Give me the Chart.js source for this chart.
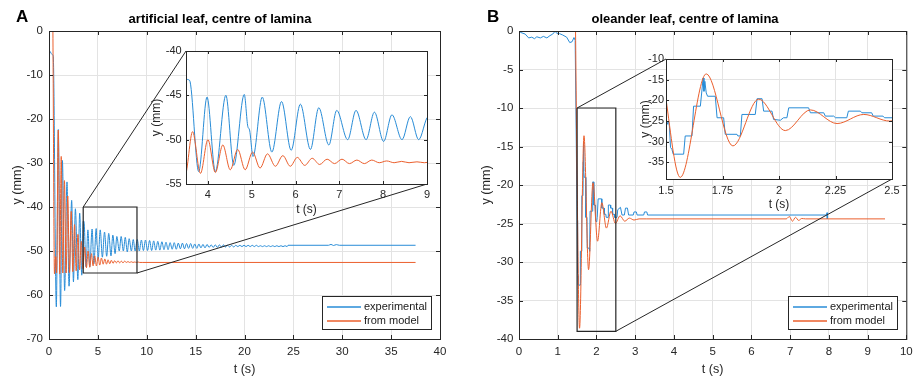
<!DOCTYPE html>
<html>
<head>
<meta charset="utf-8">
<script src="https://cdn.jsdelivr.net/npm/chart.js@4.4.1/dist/chart.umd.min.js"></script>
<style>
  body { margin: 0; width: 919px; height: 378px; position: relative; overflow: hidden; background: #fff;
         font-family: "Liberation Sans", Arial, Helvetica, sans-serif; }
  canvas { position: absolute; }
  .tag { position: absolute; font-weight: bold; font-size: 17px; line-height: 17px; color: #000; z-index: 5; }
</style>
</head>
<body>
<div class="tag" style="left:16px; top:8px">A</div>
<div class="tag" style="left:487px; top:8px">B</div>
<canvas id="mainA" width="460" height="378" style="left:0; top:0"></canvas>
<canvas id="insetA" width="300" height="180" style="left:140px; top:40px"></canvas>
<canvas id="mainB" width="459" height="378" style="left:460px; top:0"></canvas>
<canvas id="insetB" width="290" height="170" style="left:620px; top:48px"></canvas>
<script>
// ---- panel A: artificial leaf (t in s, y in mm) ----
const expA_t = [
  0, 0.1, 0.2, 0.35, 0.43, 0.75, 0.95, 1.18, 1.37, 1.60,
  1.84, 2.05, 2.32, 2.50, 2.70, 2.95, 3.14, 3.35, 3.50, 3.58,
  3.79, 3.98, 4.17, 4.41, 4.59, 4.83, 4.91, 4.95, 5.03, 5.24,
  5.46, 5.68, 5.90, 6.11, 6.34, 6.53, 6.76, 6.94, 7.19, 7.38,
  7.61, 7.80, 8.01, 8.20, 8.43, 8.62, 8.81, 9.03, 9.24, 9.45,
  9.66, 9.87, 10.08, 10.29, 10.50, 10.71, 10.92, 11.13, 11.34, 11.55,
  11.76, 11.97, 12.18, 12.39, 12.60, 12.81, 13.02, 13.23, 13.44, 13.65,
  13.86, 14.07, 14.28, 14.49, 14.70, 14.91, 15.12, 15.33, 15.54, 15.75,
  15.96, 16.17, 16.38, 16.59, 16.80, 17.01, 17.22, 17.43, 17.64, 17.85,
  18.06, 18.27, 18.48, 18.69, 18.90, 19.11, 19.32, 19.53, 19.74, 19.95,
  20.16, 20.37, 20.58, 20.79, 21.00, 21.21, 21.42, 21.63, 21.84, 22.05,
  22.26, 22.47, 22.68, 22.89, 23.10, 23.31, 23.52, 23.73, 23.94, 24.15,
  24.36, 24.45, 28.60, 28.85, 29.10, 29.40, 29.70, 37.50
];
const expA_y = [
  -4.5, -4.6, -5.0, -5.4, -5.6, -62.7, -22.4, -62.6, -29.4, -59.0,
  -34.3, -58.0, -38.5, -57.0, -40.4, -56.5, -41.4, -55.5, -43.2, -43.3,
  -53.6, -45.2, -53.6, -45.0, -52.9, -44.9, -48.5, -48.9, -51.9, -45.2,
  -51.4, -45.7, -51.2, -46.0, -51.1, -46.4, -50.6, -46.7, -50.0, -46.7,
  -50.0, -46.9, -50.2, -47.2, -50.0, -47.4, -50.0, -47.4, -50.0, -47.5,
  -49.9, -47.5, -49.9, -47.6, -49.9, -47.7, -49.8, -47.8, -49.8, -47.9,
  -49.7, -48.0, -49.7, -48.1, -49.6, -48.1, -49.6, -48.2, -49.5, -48.2,
  -49.5, -48.3, -49.4, -48.3, -49.4, -48.4, -49.4, -48.4, -49.3, -48.5,
  -49.3, -48.5, -49.2, -48.6, -49.2, -48.6, -49.2, -48.6, -49.1, -48.6,
  -49.1, -48.7, -49.1, -48.7, -49.1, -48.7, -49.0, -48.7, -49.0, -48.7,
  -49.0, -48.7, -49.0, -48.7, -49.0, -48.7, -49.0, -48.8, -49.0, -48.8,
  -49.0, -48.8, -49.0, -48.8, -49.0, -48.8, -49.0, -48.8, -49.0, -48.8,
  -49.0, -48.7, -48.7, -48.5, -48.75, -48.55, -48.7, -48.7
];
const modA_t = [
  0.40, 0.56, 0.68, 0.78, 0.95, 1.10, 1.25, 1.41, 1.58, 1.75,
  1.92, 2.09, 2.27, 2.44, 2.61, 2.78, 2.96, 3.13, 3.30, 3.48,
  3.65, 3.83, 4.00, 4.17, 4.34, 4.51, 4.68, 4.85, 5.02, 5.19,
  5.36, 5.54, 5.71, 5.88, 6.04, 6.21, 6.38, 6.55, 6.72, 6.89,
  7.06, 7.23, 7.40, 7.57, 7.74, 7.91, 8.08, 8.25, 8.42, 8.59,
  8.77, 8.94, 9.11, 9.28, 9.60, 37.50
];
const modA_y = [
  0, -55.2, -51.3, -55.0, -22.5, -55.2, -28.5, -55.0, -34.0, -55.0,
  -37.5, -54.9, -41.0, -54.7, -44.0, -54.5, -46.2, -54.3, -47.8, -54.0,
  -49.1, -53.8, -50.0, -53.7, -50.6, -53.4, -51.1, -53.4, -51.4, -53.2,
  -51.6, -53.0, -51.8, -53.0, -52.0, -52.9, -52.1, -52.8, -52.2, -52.7,
  -52.2, -52.7, -52.3, -52.7, -52.3, -52.6, -52.4, -52.6, -52.45, -52.6,
  -52.5, -52.6, -52.5, -52.6, -52.6, -52.6
];

// ---- panel B: oleander leaf ----
const expB_t = [
  0, 0.05, 0.16, 0.25, 0.33, 0.40, 0.46, 0.55, 0.63, 0.72,
  0.80, 0.87, 0.93, 0.98, 1.05, 1.12, 1.23, 1.31, 1.37, 1.42,
  1.45, 1.475, 1.500, 1.505, 1.510, 1.515, 1.520, 1.526, 1.532, 1.578,
  1.585, 1.615, 1.622, 1.652, 1.660, 1.664, 1.668, 1.672, 1.678, 1.684,
  1.718, 1.726, 1.755, 1.762, 1.814, 1.818, 1.829, 1.836, 1.895, 1.903,
  1.925, 1.932, 1.969, 1.976, 2.006, 2.020, 2.035, 2.043, 2.131, 2.139,
  2.198, 2.205, 2.242, 2.250, 2.300, 2.307, 2.360, 2.367, 2.410, 2.417,
  2.460, 2.467, 2.530, 2.550, 2.620, 2.660, 2.720, 2.750, 2.800, 2.830,
  2.950, 2.970, 3.030, 3.050, 3.220, 3.240, 3.300, 3.320, 7.950, 7.955,
  7.960
];
const expB_y = [
  0, -0.2, -0.4, -0.9, -0.8, -1.0, -0.75, -0.9, -0.7, -0.9,
  -0.6, -0.4, -0.05, -0.3, -0.35, -0.5, -0.8, -1.5, -1.4, -0.85,
  -1.2, -12.6, -24.6, -25.8, -25.0, -26.2, -31.4, -31.8, -33.0, -33.0,
  -28.6, -28.6, -21.4, -21.4, -17.0, -14.6, -17.8, -15.4, -18.2, -19.0,
  -19.0, -24.2, -24.2, -28.2, -28.2, -28.6, -28.6, -23.4, -23.4, -19.6,
  -19.6, -22.6, -22.6, -24.6, -24.8, -24.2, -24.2, -21.8, -21.8, -23.0,
  -23.0, -23.8, -23.8, -24.2, -24.2, -22.6, -22.6, -23.0, -23.0, -23.8,
  -23.8, -24.2, -24.2, -23.2, -22.9, -23.9, -23.9, -23.0, -23.0, -23.9,
  -23.9, -23.5, -23.5, -23.9, -23.9, -23.5, -23.5, -23.9, -23.9, -23.6,
  -24.4
];
const modB_t = [
  1.46, 1.50, 1.563, 1.678, 1.796, 1.910, 2.028, 2.139, 2.257, 2.375,
  2.49, 2.61, 2.73, 2.85, 2.97, 3.10, 3.30, 6.90, 6.98, 7.06,
  7.14, 7.22, 7.30, 7.40, 9.45
];
const modB_y = [
  0, -19.6, -38.6, -13.6, -31.0, -19.7, -27.3, -22.3, -25.6, -23.4,
  -25.0, -24.0, -24.7, -24.3, -24.55, -24.4, -24.4, -24.4, -24.1, -24.7,
  -24.2, -24.6, -24.35, -24.4, -24.4
];

// axis limits and tick labels
const mainA_t = [0, 40], mainA_y = [-70, 0];
const zoomA_t = [3.5, 9], zoomA_y = [-55, -40];
const mainB_t = [0, 10], mainB_y = [-40, 0];
const zoomB_t = [1.5, 2.5], zoomB_y = [-39, -10];
const ticksA_x = [0, 5, 10, 15, 20, 25, 30, 35, 40];
const ticksA_y = [-70, -60, -50, -40, -30, -20, -10, 0];
const ticksAin_x = [4, 5, 6, 7, 8, 9];
const ticksAin_y = [-55, -50, -45, -40];
const ticksB_x = [0, 1, 2, 3, 4, 5, 6, 7, 8, 9, 10];
const ticksB_y = [-40, -35, -30, -25, -20, -15, -10, -5, 0];
const ticksBin_x = [1.5, 1.75, 2, 2.25, 2.5];
const ticksBin_y = [-35, -30, -25, -20, -15, -10];

const font = '"Liberation Sans", Arial, Helvetica, sans-serif';
const ink = '#262626';
const blue = 'rgb(40,140,215)';
const orange = 'rgb(235,95,45)';

const series = (label, t, y, color, smooth, order) => ({
  label, order, data: t.map((v, i) => ({ x: v, y: y[i] })),
  borderColor: color, borderWidth: 1, pointRadius: 0, fill: false, clip: 0,
  tension: 0, cubicInterpolationMode: smooth ? 'monotone' : 'default'
});

const zoomBox = (tr, yr) => ({
  label: '', order: 0, borderColor: ink, borderWidth: 1.2, pointRadius: 0, tension: 0, clip: false,
  data: [{ x: tr[0], y: yr[1] }, { x: tr[1], y: yr[1] }, { x: tr[1], y: yr[0] },
         { x: tr[0], y: yr[0] }, { x: tr[0], y: yr[1] }]
});

function axis(vals, lim, size, title, o) {
  return {
    type: 'linear', min: lim[0], max: lim[1],
    afterBuildTicks: s => { s.ticks = vals.map(v => ({ value: v })); },
    afterFit: s => { if (s.isHorizontal()) s.height = size; else s.width = size; },
    grid: { color: '#e3e3e3', drawTicks: false },
    border: { display: false },
    ticks: { color: ink, font: { family: font, size: o.tick }, padding: o.pad,
             maxRotation: 0, autoSkip: false, callback: v => String(v) },
    title: { display: true, text: title, color: ink, font: { family: font, size: o.label }, padding: o.titlePad }
  };
}

// MATLAB-like box, inward ticks, zoom connectors and legend
const frame = {
  id: 'frame',
  beforeDraw(chart, args, o) {
    if (!o.fill) return;
    const a = chart.chartArea;
    chart.ctx.fillStyle = '#fff';
    chart.ctx.fillRect(a.left, a.top, a.right - a.left, a.bottom - a.top);
  },
  afterDatasetsDraw(chart, args, o) {
    const ctx = chart.ctx, a = chart.chartArea;
    const xs = chart.scales.x, ys = chart.scales.y, L = o.tick;
    ctx.save();
    ctx.strokeStyle = ink;
    ctx.lineWidth = 1;
    ctx.beginPath();
    xs.ticks.forEach(t => {
      const p = Math.round(xs.getPixelForValue(t.value)) + 0.5;
      ctx.moveTo(p, a.bottom); ctx.lineTo(p, a.bottom - L);
      ctx.moveTo(p, a.top); ctx.lineTo(p, a.top + L);
    });
    ys.ticks.forEach(t => {
      const p = Math.round(ys.getPixelForValue(t.value)) + 0.5;
      ctx.moveTo(a.left, p); ctx.lineTo(a.left + L, p);
      ctx.moveTo(a.right, p); ctx.lineTo(a.right - L, p);
    });
    ctx.stroke();
    ctx.strokeRect(a.left + 0.5, a.top + 0.5, a.right - a.left, a.bottom - a.top);

    if (o.inset) {
      const ic = Chart.getChart(o.inset);
      const ia = ic.chartArea;
      const dx = ic.canvas.offsetLeft - chart.canvas.offsetLeft;
      const dy = ic.canvas.offsetTop - chart.canvas.offsetTop;
      ctx.beginPath();
      ctx.moveTo(xs.getPixelForValue(o.range[0][0]), ys.getPixelForValue(o.range[1][1]));
      ctx.lineTo(ia.left + dx, ia.top + dy);
      ctx.moveTo(xs.getPixelForValue(o.range[0][1]), ys.getPixelForValue(o.range[1][0]));
      ctx.lineTo(ia.right + dx, ia.bottom + dy);
      ctx.stroke();
    }

    if (o.legend) {
      const items = chart.data.datasets.filter(d => d.label);
      ctx.font = '11px ' + font;
      const tw = Math.max(...items.map(d => ctx.measureText(d.label).width));
      const w = Math.round(42 + tw + 4), h = 33;
      const x = Math.round(a.right - 9 - w), y = Math.round(a.bottom - 10 - h);
      ctx.fillStyle = '#fff';
      ctx.fillRect(x, y, w, h);
      ctx.strokeStyle = ink;
      ctx.lineWidth = 1;
      ctx.strokeRect(x + 0.5, y + 0.5, w, h);
      ctx.textBaseline = 'middle';
      items.forEach((d, i) => {
        const cy = y + 11 + i * 14;
        ctx.strokeStyle = d.borderColor;
        ctx.lineWidth = 1.3;
        ctx.beginPath(); ctx.moveTo(x + 5, cy); ctx.lineTo(x + 39, cy); ctx.stroke();
        ctx.fillStyle = '#1a1a1a';
        ctx.fillText(d.label, x + 42, cy);
      });
    }
    ctx.restore();
  }
};

const base = (padding, frameOpts, title) => ({
  responsive: false, animation: false, events: [], devicePixelRatio: 1,
  layout: { padding },
  plugins: {
    legend: { display: false }, tooltip: { enabled: false },
    title: title ? { display: true, text: title, color: '#000',
                     font: { family: font, size: 13, weight: 'bold' }, padding: { top: 12, bottom: 3.4 } }
                 : { display: false },
    frame: frameOpts
  }
});

const mainFont = { tick: 11.5, label: 12.6 };
const insetFont = { tick: 11, label: 12 };

// insets first so the main charts can find them for the connector lines
new Chart(document.getElementById('insetA'), {
  type: 'line',
  data: { datasets: [series('experimental', expA_t, expA_y, blue, true, 2),
                     series('from model', modA_t, modA_y, orange, true, 1)] },
  options: Object.assign(base({ top: 11, right: 13, left: 0, bottom: 0 }, { fill: true, tick: 3 }), {
    scales: {
      x: axis(ticksAin_x, zoomA_t, 36, 't (s)', { ...insetFont, pad: 4.4, titlePad: { top: 0, bottom: 2.8 } }),
      y: axis(ticksAin_y, zoomA_y, 46, 'y (mm)', { ...insetFont, pad: 4.3, titlePad: { top: 9.5, bottom: 0 } })
    }
  }),
  plugins: [frame]
});

new Chart(document.getElementById('insetB'), {
  type: 'line',
  data: { datasets: [series('experimental', expB_t, expB_y, blue, false, 2),
                     series('from model', modB_t, modB_y, orange, true, 1)] },
  options: Object.assign(base({ top: 11, right: 18, left: 0, bottom: 0 }, { fill: true, tick: 3 }), {
    scales: {
      x: axis(ticksBin_x, zoomB_t, 39, 't (s)', { ...insetFont, pad: 4.9, titlePad: { top: 0, bottom: 5.8 } }),
      y: axis(ticksBin_y, zoomB_y, 46, 'y (mm)', { ...insetFont, pad: 2, titlePad: { top: 18.8, bottom: 0 } })
    }
  }),
  plugins: [frame]
});

new Chart(document.getElementById('mainA'), {
  type: 'line',
  data: { datasets: [series('experimental', expA_t, expA_y, blue, true, 2),
                     series('from model', modA_t, modA_y, orange, true, 1),
                     zoomBox(zoomA_t, zoomA_y)] },
  options: Object.assign(base({ top: 0, right: 20, left: 0, bottom: 0 },
                              { tick: 4, legend: true, inset: 'insetA', range: [zoomA_t, zoomA_y] },
                              'artificial leaf, centre of lamina'), {
    scales: {
      x: axis(ticksA_x, mainA_t, 39, 't (s)', { ...mainFont, pad: 6.3, titlePad: { top: 0, bottom: 0.5 } }),
      y: axis(ticksA_y, mainA_y, 49, 'y (mm)', { ...mainFont, pad: 6, titlePad: { top: 10.4, bottom: 0 } })
    }
  }),
  plugins: [frame]
});

new Chart(document.getElementById('mainB'), {
  type: 'line',
  data: { datasets: [series('experimental', expB_t, expB_y, blue, false, 2),
                     series('from model', modB_t, modB_y, orange, true, 1),
                     zoomBox(zoomB_t, zoomB_y)] },
  options: Object.assign(base({ top: 0, right: 9, left: 0, bottom: 0 },
                              { tick: 4, legend: true, inset: 'insetB', range: [zoomB_t, zoomB_y] },
                              'oleander leaf, centre of lamina'), {
    scales: {
      x: axis(ticksB_x, mainB_t, 39, 't (s)', { ...mainFont, pad: 6.3, titlePad: { top: 0, bottom: 0.5 } }),
      y: axis(ticksB_y, mainB_y, 59, 'y (mm)', { ...mainFont, pad: 5.7, titlePad: { top: 19.1, bottom: 0 } })
    }
  }),
  plugins: [frame]
});
</script>
</body>
</html>
